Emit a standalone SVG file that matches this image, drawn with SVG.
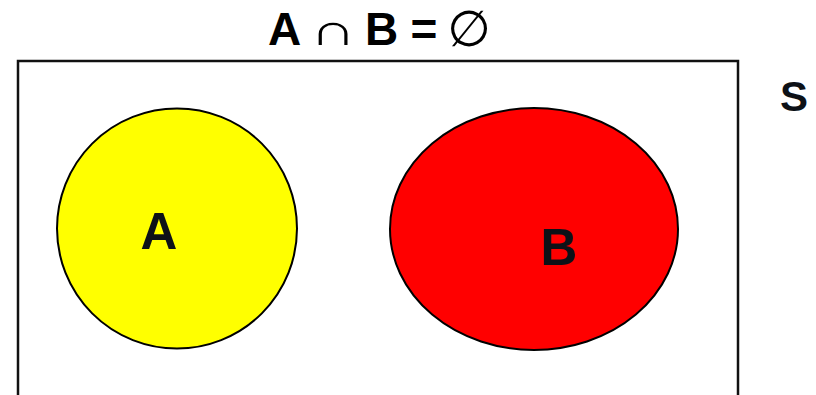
<svg xmlns="http://www.w3.org/2000/svg" width="816" height="395" viewBox="0 0 816 395">
<style>
.lbl{font-family:"Liberation Sans",Arial,sans-serif;font-weight:bold;fill:#0d1117}
.ttl{font-family:"Liberation Sans",Arial,sans-serif;font-weight:bold;fill:#000}
.sym{font-family:"DejaVu Sans","Liberation Sans",sans-serif;fill:#000}
.set{stroke:#000;stroke-width:2}
</style>
<rect width="816" height="395" fill="#fff"/>
<g id="title">
<text class="ttl" x="268" y="45" font-size="46">A</text>
<text class="sym" transform="translate(333,45) scale(1.45,1)" x="0" y="0" font-size="44" font-weight="200" text-anchor="middle">∩</text>
<text class="ttl" x="365" y="45" font-size="46">B</text>
<text class="ttl" x="424" y="45" font-size="46" text-anchor="middle">=</text>
<text class="sym" x="469" y="46" font-size="50" text-anchor="middle">∅</text>
</g>
<g id="universe">
<rect x="18" y="61" width="720" height="360" fill="none" stroke="#111" stroke-width="2.5"/>
<text class="lbl" x="794" y="111" font-size="42" text-anchor="middle">S</text>
</g>
<g id="setA">
<circle class="set" cx="177" cy="228.5" r="120" fill="#ffff00"/>
<text class="lbl" x="159" y="249" font-size="51" text-anchor="middle">A</text>
</g>
<g id="setB">
<ellipse class="set" cx="534" cy="229" rx="144" ry="121" fill="#ff0000"/>
<text class="lbl" x="559" y="265" font-size="51" text-anchor="middle">B</text>
</g>
<g id="connectors"/>
</svg>
